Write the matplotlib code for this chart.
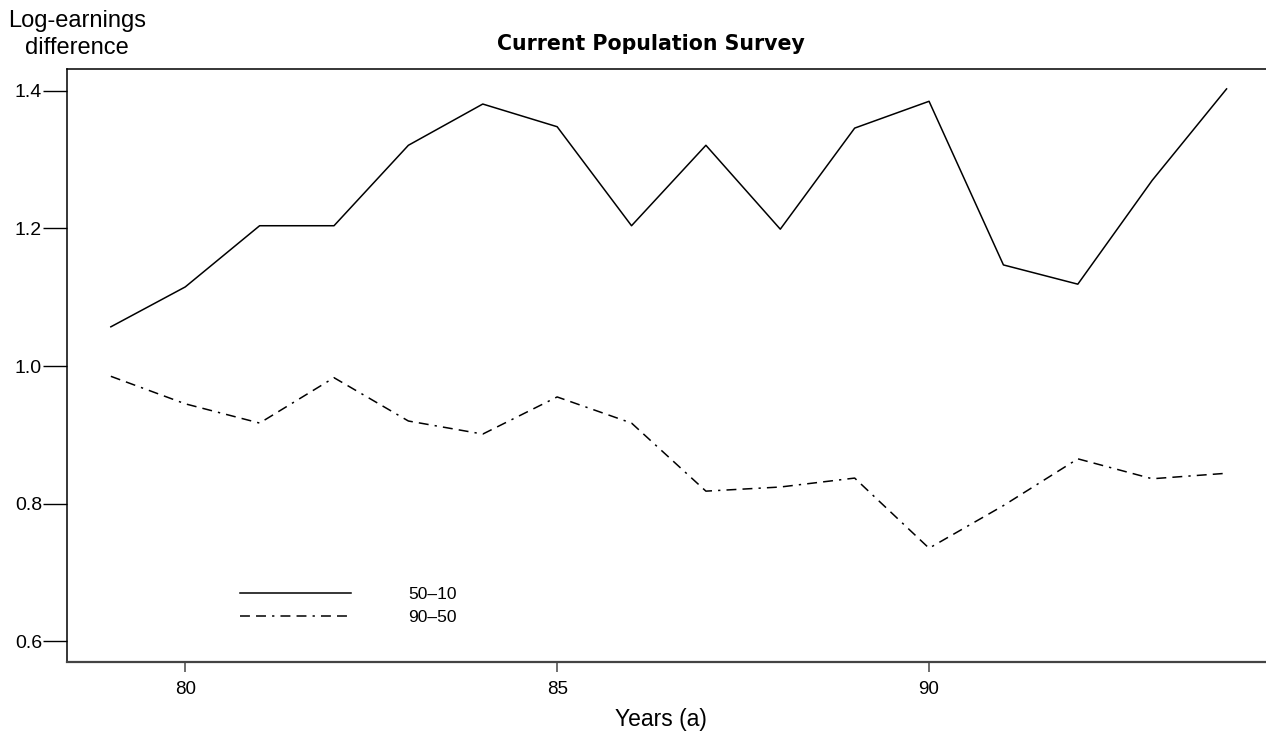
import matplotlib
matplotlib.use("Agg")
import matplotlib.pyplot as plt

plt.rcParams['font.family'] = ['Liberation Sans', 'DejaVu Sans']

years = list(range(79, 95))
gap_50_10 = [1.057, 1.115, 1.204, 1.204, 1.321, 1.381, 1.348, 1.204,
             1.321, 1.199, 1.346, 1.385, 1.147, 1.119, 1.270, 1.403]
gap_90_50 = [0.985, 0.945, 0.917, 0.983, 0.920, 0.901, 0.955, 0.917,
             0.818, 0.824, 0.837, 0.735, 0.797, 0.865, 0.836, 0.844]
series_labels = ['50\u201310', '90\u201350']
x_ticks = [80, 85, 90]
y_ticks = [0.6, 0.8, 1.0, 1.2, 1.4]

fig = plt.figure(figsize=(12.66, 7.4), dpi=100)
ax = fig.add_axes([0.0529, 0.1054, 0.9471, 0.8014])

ax.plot(years, gap_50_10, color='black', lw=1.1, label=series_labels[0])
ax.plot(years, gap_90_50, color='black', lw=1.1,
        linestyle=(0, (6.5, 4, 6.5, 4, 1.5, 4)), label=series_labels[1])

ax.set_xlim(78.41, 94.53)
ax.set_ylim(0.5695, 1.432)
ax.set_xticks(x_ticks)
ax.set_xticklabels([str(t) for t in x_ticks], fontsize=13.5)
ax.set_yticks(y_ticks)
ax.set_yticklabels([f'{t:.1f}' for t in y_ticks], fontsize=14)

ax.spines['right'].set_visible(False)
for side in ('left', 'top'):
    ax.spines[side].set_linewidth(1.1)
ax.spines['bottom'].set_linewidth(1.6)
ax.spines['bottom'].set_color('#444444')

ax.tick_params(axis='y', direction='out', length=17.5, width=1.0, pad=0.5)
ax.tick_params(axis='x', direction='out', length=7, width=1.2, color='#555555', pad=7)

ax.legend(loc='upper left', bbox_to_anchor=(0.1896, 0.207),
          bbox_transform=fig.transFigure, frameon=False, fontsize=12.5,
          handlelength=6.4, handletextpad=3.3, labelspacing=0.45,
          borderaxespad=0, borderpad=0)

fig.text(0.514, 0.932, 'Current Population Survey', ha='center', va='baseline',
         fontsize=14.8, fontweight='bold', family='DejaVu Sans')
fig.text(0.061, 0.987, 'Log-earnings\ndifference', ha='center', va='top',
         multialignment='center', fontsize=17, linespacing=1.3)
fig.text(0.522, 0.019, 'Years (a)', ha='center', va='baseline', fontsize=16.5)

fig.savefig('out.png', dpi=100)
